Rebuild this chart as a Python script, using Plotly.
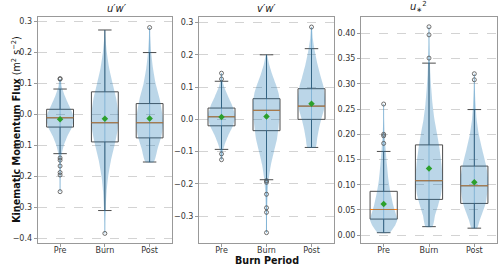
import plotly.graph_objects as go

categories = ["Pre", "Burn", "Post"]
positions = [1, 2, 3]
panel_titles = ["<i>u′w′</i>", "<i>v′w′</i>", "<i>u</i><sub>∗</sub><sup>2</sup>"]

# ---- box statistics per panel: [Pre, Burn, Post]
uw_q1 = [-0.041, -0.089, -0.076]
uw_med = [-0.011, -0.027, -0.027]
uw_q3 = [0.0165, 0.073, 0.035]
uw_lo = [-0.127, -0.311, -0.154]
uw_hi = [0.082, 0.273, 0.200]
uw_mean = [-0.016, -0.014, -0.013]
uw_out = [[0.114, 0.116, -0.141, -0.148, -0.167, -0.188, -0.196, -0.250],
          [-0.385],
          [0.281]]

vw_q1 = [-0.020, -0.035, 0.000]
vw_med = [0.008, 0.028, 0.041]
vw_q3 = [0.035, 0.064, 0.095]
vw_lo = [-0.093, -0.187, -0.087]
vw_hi = [0.118, 0.200, 0.219]
vw_mean = [0.007, 0.009, 0.048]
vw_out = [[0.143, 0.125, -0.107, -0.125],
          [-0.190, -0.195, -0.232, -0.274, -0.288, -0.351],
          [0.286]]

us_q1 = [0.032, 0.071, 0.063]
us_med = [0.051, 0.108, 0.098]
us_q3 = [0.087, 0.179, 0.137]
us_lo = [0.005, 0.017, 0.014]
us_hi = [0.166, 0.341, 0.249]
us_mean = [0.062, 0.132, 0.105]
us_out = [[0.260, 0.200, 0.197, 0.182],
          [0.413, 0.397, 0.351],
          [0.320, 0.308]]

# ---- violin density profiles (value, relative density) per category
uw_violin = [
    [(0.114, 0.05), (0.09, 0.12), (0.06, 0.35), (0.03, 0.65), (0.0, 0.95), (-0.02, 1.0),
     (-0.04, 0.9), (-0.07, 0.55), (-0.1, 0.28), (-0.13, 0.12), (-0.17, 0.06), (-0.21, 0.03), (-0.25, 0.01)],
    [(0.273, 0.01), (0.25, 0.04), (0.2, 0.15), (0.15, 0.32), (0.1, 0.58), (0.05, 0.85), (0.0, 1.0),
     (-0.05, 0.95), (-0.1, 0.72), (-0.15, 0.45), (-0.2, 0.25), (-0.25, 0.13), (-0.3, 0.07), (-0.35, 0.03), (-0.385, 0.01)],
    [(0.281, 0.02), (0.25, 0.05), (0.2, 0.12), (0.15, 0.25), (0.1, 0.45), (0.05, 0.75), (0.0, 0.95),
     (-0.03, 1.0), (-0.07, 0.88), (-0.11, 0.6), (-0.154, 0.3)],
]
vw_violin = [
    [(0.143, 0.03), (0.12, 0.08), (0.1, 0.2), (0.07, 0.5), (0.04, 0.82), (0.01, 1.0), (-0.02, 0.85),
     (-0.05, 0.5), (-0.08, 0.22), (-0.1, 0.1), (-0.125, 0.04)],
    [(0.2, 0.03), (0.17, 0.2), (0.14, 0.42), (0.11, 0.68), (0.08, 0.9), (0.05, 1.0), (0.02, 0.98),
     (-0.02, 0.9), (-0.06, 0.78), (-0.1, 0.55), (-0.14, 0.33), (-0.18, 0.18), (-0.22, 0.1),
     (-0.27, 0.06), (-0.31, 0.04), (-0.351, 0.02)],
    [(0.286, 0.02), (0.25, 0.1), (0.21, 0.25), (0.17, 0.45), (0.13, 0.7), (0.1, 0.9), (0.06, 1.0),
     (0.03, 0.92), (0.0, 0.72), (-0.03, 0.55), (-0.06, 0.42), (-0.087, 0.3)],
]
us_violin = [
    [(0.26, 0.01), (0.23, 0.03), (0.2, 0.07), (0.17, 0.15), (0.14, 0.24), (0.11, 0.35), (0.085, 0.5),
     (0.06, 0.7), (0.04, 0.92), (0.03, 1.0), (0.02, 0.85), (0.01, 0.6), (0.005, 0.45)],
    [(0.413, 0.01), (0.38, 0.03), (0.35, 0.06), (0.32, 0.1), (0.29, 0.17), (0.26, 0.26), (0.23, 0.4),
     (0.2, 0.6), (0.17, 0.78), (0.14, 0.92), (0.11, 1.0), (0.08, 0.88), (0.06, 0.68), (0.04, 0.45), (0.017, 0.25)],
    [(0.32, 0.01), (0.29, 0.04), (0.26, 0.09), (0.23, 0.17), (0.2, 0.33), (0.17, 0.58), (0.14, 0.85),
     (0.115, 1.0), (0.09, 0.97), (0.065, 0.85), (0.045, 0.6), (0.03, 0.4), (0.014, 0.2)],
]

panels = [
    dict(q1=uw_q1, med=uw_med, q3=uw_q3, lo=uw_lo, hi=uw_hi, mean=uw_mean, out=uw_out, vio=uw_violin,
         yrange=[-0.416, 0.316], dtick=0.1, fmt=".1f"),
    dict(q1=vw_q1, med=vw_med, q3=vw_q3, lo=vw_lo, hi=vw_hi, mean=vw_mean, out=vw_out, vio=vw_violin,
         yrange=[-0.383, 0.318], dtick=0.1, fmt=".1f"),
    dict(q1=us_q1, med=us_med, q3=us_q3, lo=us_lo, hi=us_hi, mean=us_mean, out=us_out, vio=us_violin,
         yrange=[-0.0154, 0.433], dtick=0.05, fmt=".2f"),
]

W, H = 500, 267
x_domains = [[37.7 / W, 172 / W], [199 / W, 334 / W], [361 / W, 497 / W]]
y_domain = [(H - 243) / H, (H - 16.7) / H]

BOX_W = 0.6
VIO_HALF = 0.3
BOX_COLOR = "#4d4d4d"
VIO_FILL = "rgba(31,119,180,0.3)"
FONT = "DejaVu Sans"

fig = go.Figure()

for i, p in enumerate(panels):
    xa = "x" if i == 0 else f"x{i+1}"
    ya = "y" if i == 0 else f"y{i+1}"
    # boxes
    fig.add_trace(go.Box(
        x=positions, q1=p["q1"], median=p["med"], q3=p["q3"],
        lowerfence=p["lo"], upperfence=p["hi"],
        width=BOX_W, whiskerwidth=0.5, boxpoints=False,
        line=dict(color=BOX_COLOR, width=1), fillcolor="rgba(0,0,0,0)",
        xaxis=xa, yaxis=ya, showlegend=False, hoverinfo="skip"))
    # medians
    for j, pos in enumerate(positions):
        fig.add_trace(go.Scatter(
            x=[pos - BOX_W / 2, pos + BOX_W / 2], y=[p["med"][j], p["med"][j]],
            mode="lines", line=dict(color="#ff7f0e", width=1),
            xaxis=xa, yaxis=ya, showlegend=False, hoverinfo="skip"))
    # violins
    for j, pos in enumerate(positions):
        prof = p["vio"][j]
        ys = [v for v, d in prof]
        ds = [d for v, d in prof]
        xs = [pos + d * VIO_HALF for d in ds] + [pos - d * VIO_HALF for d in reversed(ds)]
        yy = ys + list(reversed(ys))
        fig.add_trace(go.Scatter(
            x=xs + [xs[0]], y=yy + [yy[0]], mode="lines", fill="toself",
            fillcolor=VIO_FILL, line=dict(width=0, shape="spline", smoothing=0.6),
            xaxis=xa, yaxis=ya, showlegend=False, hoverinfo="skip"))
        # extrema bar
        fig.add_trace(go.Scatter(
            x=[pos, pos], y=[min(ys), max(ys)], mode="lines",
            line=dict(color="rgba(31,119,180,0.35)", width=1),
            xaxis=xa, yaxis=ya, showlegend=False, hoverinfo="skip"))
    # outliers
    ox, oy = [], []
    for j, pos in enumerate(positions):
        for v in p["out"][j]:
            ox.append(pos)
            oy.append(v)
    fig.add_trace(go.Scatter(
        x=ox, y=oy, mode="markers",
        marker=dict(symbol="circle-open", size=4, color=BOX_COLOR, line=dict(width=0.8)),
        xaxis=xa, yaxis=ya, showlegend=False, hoverinfo="skip"))
    # means
    fig.add_trace(go.Scatter(
        x=positions, y=p["mean"], mode="markers",
        marker=dict(symbol="diamond", size=5, color="#2ca02c"),
        xaxis=xa, yaxis=ya, showlegend=False, hoverinfo="skip"))

    axis_common = dict(showline=True, mirror=True, linecolor="#999999", linewidth=1,
                       ticks="outside", ticklen=3, tickcolor="#999999", automargin=False,
                       tickfont=dict(family=FONT, size=8, color="#333333"), zeroline=False)
    fig.layout[f"xaxis{'' if i == 0 else i+1}"] = dict(
        domain=x_domains[i], range=[0.5, 3.5], tickvals=positions, ticktext=categories,
        showgrid=False, anchor=ya, ticklabelstandoff=-4, **axis_common)
    fig.layout[f"yaxis{'' if i == 0 else i+1}"] = dict(
        domain=y_domain, range=p["yrange"], dtick=p["dtick"], tick0=0, tickformat=p["fmt"],
        showgrid=True, gridcolor="#d3d3d3", gridwidth=0.7, griddash="dash",
        anchor=xa, **axis_common)
    # panel title
    fig.add_annotation(
        x=(x_domains[i][0] + x_domains[i][1]) / 2, y=y_domain[1], xref="paper", yref="paper",
        yshift=1, text=panel_titles[i], showarrow=False, yanchor="bottom",
        font=dict(family=FONT, size=10, color="#222222"))

fig.add_annotation(
    x=8 / W, y=(y_domain[0] + y_domain[1]) / 2, xref="paper", yref="paper",
    text="<b>Kinematic Momentum Flux</b> (m<sup>2</sup> s<sup>−2</sup>)", textangle=-90,
    showarrow=False, font=dict(family=FONT, size=9.6, color="#111111"))
fig.add_annotation(
    x=(x_domains[1][0] + x_domains[1][1]) / 2, y=(H - 253) / H, xref="paper", yref="paper",
    yanchor="top", text="<b>Burn Period</b>", showarrow=False,
    font=dict(family=FONT, size=9.6, color="#111111"))

fig.update_layout(template="none", width=W, height=H, margin=dict(l=0, r=0, t=0, b=0),
                  plot_bgcolor="white", paper_bgcolor="white", showlegend=False)

fig.write_html("out.html", config={"displayModeBar": False},
               post_script="document.body.style.margin='0';document.body.style.overflow='hidden';")
